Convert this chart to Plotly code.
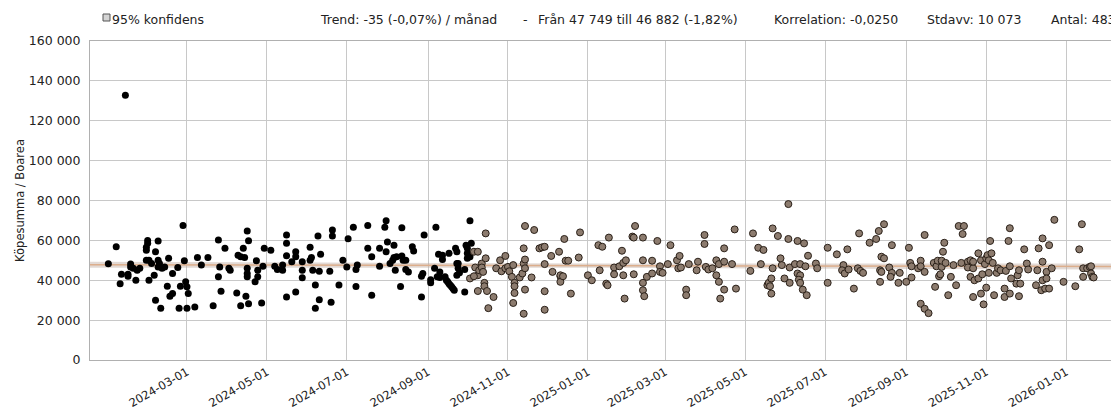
import pandas as pd
import plotly.graph_objects as go

# ---- data (day offsets from 2024-01-01, value = Köpesumma / Boarea) ----
epoch = "2024-01-01"

black_days = [0, 6, 9, 10, 13, 15, 15, 17, 17, 19, 21, 22, 24, 30, 30, 29, 29, 29, 31, 31, 33, 35, 36, 36, 38, 38, 38, 39, 40, 41,
              43, 45, 46, 47, 49, 49, 53, 54, 55, 57, 58, 59, 60, 60, 61, 66, 68, 71, 76, 80, 84, 84, 85, 86, 89, 92, 93, 99, 98, 101,
              101, 103, 104, 106, 106, 106, 106, 107, 107, 105, 112, 113, 114, 114, 117, 118, 119,
              124, 127, 129, 133, 133, 136, 136, 136, 136, 140, 143, 143, 143, 148, 148, 148, 154, 154, 155, 156, 158, 158, 160,
              161, 161, 162, 169, 170, 171, 171, 176, 179, 182, 183, 187, 189, 189, 190, 198, 198, 201, 201, 207, 207, 211, 212, 212, 213,
              215, 217, 218, 218, 219, 220, 223, 224, 224, 225, 227, 227, 229, 232, 233, 239, 239, 240, 241, 246, 246, 249, 250, 251, 252,
              253, 253, 255, 255, 257, 258, 260, 259, 260, 261, 262, 263, 264, 265, 266, 266, 266, 267, 267, 268, 272, 272, 273, 274,
              274, 274, 276, 276, 277]
black_vals = [48300, 56800, 38300, 43000, 132800, 43000, 42000, 48100, 46700, 46000, 40000, 45000, 46000, 60000, 58500, 56500, 55000, 50000, 50000, 40000,
              48400, 42500, 54300, 30000, 50000, 59700, 46700, 48400, 26000, 46000, 46700, 37000, 51000, 32000, 33300, 43400, 46400, 26000, 37000, 67400,
              49800, 39200, 36700, 26000, 33300, 26600, 51400, 47600, 51400, 27200, 60200, 41700, 46700, 34500, 56000, 46000, 45000, 52600, 33600, 51800,
              27200, 56000, 51400, 41700, 64700, 46000, 43400, 59800, 28200, 32000, 39200, 49800, 45000, 41700, 28600, 47000, 56000,
              55000, 47000, 45400, 47600, 45000, 62700, 58500, 52300, 31600, 49300, 54300, 51800, 34100, 49300, 45000, 41200, 56500, 50000, 51400,
              45000, 26000, 37600, 62200, 30200, 44500, 53100, 44500, 29000, 65200, 62200, 37600, 50000, 46700, 60800, 66600, 45400, 36900, 47600,
              67400, 56000, 51800, 32500, 47000, 56000, 66600, 69800, 54300, 59200, 48400, 50000, 57600, 51400, 45000, 51800, 36900, 52200, 66300,
              50000, 45400, 50000, 44200, 56800, 54700, 42000, 31600, 43400, 62700, 40300, 38700, 46000, 66600, 41700, 53100,
              44200, 41400, 52600, 50400, 41700, 40000, 53500, 39200, 38300, 37500, 36700, 35800, 35000, 56000, 54300, 48400, 42500, 46000,
              48400, 43700, 34100, 45400, 57600, 56000, 53500, 51000, 51800, 69800, 58500]

brown_days = [279, 282, 280, 282, 283, 285, 285, 286, 287, 287, 288, 288, 282, 276, 279, 289, 290, 294, 296, 299, 300, 303, 303, 305, 306,
              308, 309, 310, 310, 310, 309, 314, 316, 317, 317, 318, 318, 318, 318, 317, 323, 325, 329, 331, 333, 333, 333, 333, 338, 339,
              344, 345, 345, 345, 347, 348, 349, 351, 353, 359, 360, 366, 369, 374, 377, 375, 380, 381, 382, 386, 386,
              390, 392, 393, 393, 395, 394, 400, 401, 402, 401, 408, 408, 408, 408, 409, 411, 415, 415, 419, 421, 421, 423, 427, 429,
              434, 435, 436, 437, 441, 441, 443, 449, 450, 455, 455, 456, 458, 461, 464, 464, 466, 466, 467, 470, 470, 470, 476, 478,
              479, 490, 492, 496, 498, 500, 503, 504, 505, 506, 506, 507, 507, 511, 513, 514, 516, 519, 519, 520, 520,
              526, 524, 528, 526, 528, 527, 528, 530, 531, 532, 533, 534, 540, 541, 549, 549, 556, 561, 560, 562, 564, 565, 569, 572,
              573, 574, 576, 581, 586, 588, 592, 590, 592, 589, 590, 589, 596, 598, 597, 598, 603, 604, 609, 611, 612, 613, 613, 618,
              620, 620, 620, 623, 626, 623, 623, 630, 631, 632, 633, 634, 635, 636, 636, 637, 638, 639, 641, 643, 645, 647, 649, 651,
              652, 653,
              656, 656, 658, 658, 660, 660, 661, 660, 664, 664, 666, 666, 667, 668, 669, 670, 670, 671, 672, 672, 673, 674, 675, 676,
              678, 679, 681, 684, 684, 685, 687, 688, 688, 688, 689, 693, 694, 695, 695, 696, 699, 701, 702, 708, 709, 710, 712, 713,
              713, 713, 715, 716, 716, 718, 718, 720, 722, 729, 738, 741, 743, 744, 744, 747, 749, 750, 750, 751, 752]
brown_vals = [54300, 54300, 46400, 42500, 45000, 48400, 46400, 44200, 38700, 37000, 63500, 51000, 34600, 40900, 42000, 34600, 26000, 31600, 46000, 50000,
              44500, 52200, 46000, 46700, 44500, 41700, 47600, 38700, 37000, 33600, 28600, 41400, 43400, 56000, 48400, 50400, 46000, 67200, 35300, 23200,
              41400, 65200, 56000, 56500, 56800, 48100, 34500, 25200, 52200, 44200, 54300, 42000, 42500, 39200, 42000, 60700, 49800, 49800, 33300, 51400,
              64000, 42500, 40000, 57600, 56800, 45000, 38300, 37500, 61400, 46400, 43000,
              47000, 54800, 42500, 48700, 50000, 30800, 61900, 61400, 67200, 43000, 61400, 50000, 38700, 35000, 32000, 41700, 43400, 49800, 59700,
              47000, 44200, 43700, 48100, 57600, 50000, 46000, 52200, 46400, 35300, 32500, 48100, 45000, 49300, 62700, 58200, 46700, 45400, 46000,
              50000, 42500, 48100, 39200, 30800, 49300, 56000, 35300, 48100, 65500, 35800, 44700, 63500, 56300, 48100, 55200, 37500, 38700, 37000,
              40900, 33300, 66000, 46000, 62200, 51000, 47600, 40900, 78200, 60700, 46400, 38700,
              59700, 48100, 48100, 43400, 42500, 40300, 38700, 35300, 58500, 47000, 32500, 52300, 48400, 46000, 56300, 38700, 53000, 47600, 45000,
              43400, 55500, 45400, 35800, 46000, 63500, 44700, 43700, 58800, 60700, 64700, 68100, 51800, 51000, 45000, 44200, 39200, 46400, 43700,
              41700, 57600, 38700, 43700, 39200, 56300, 48700, 41400, 47000, 46000, 49800, 47000, 28200, 25700, 23500, 62700, 44200, 48700, 36700,
              47000, 49800, 42000, 43000, 46700, 49800, 54300, 58800, 48700, 32500, 41700, 47600, 37500, 67200, 48700, 63200, 67200,
              49300, 46400, 50000, 41700, 46000, 49300, 40000, 31600, 53500, 40900, 33300, 50000, 43000, 27900, 48100, 36300, 51000, 52600, 50000,
              43700, 59700, 53500, 48700, 32500, 43700, 46000, 45000, 35800, 31600, 44700, 59700, 66100, 47000, 33300, 40900, 38300, 42500, 32000,
              45000, 38300, 55500, 48400, 45400, 37500, 45000, 56000, 35000, 61000, 49300, 40000, 35800, 44200, 40900, 35800, 57600, 46000, 70300,
              39200, 37000, 55500, 68100, 46000, 41700, 46000, 46700, 47000, 43400, 41700, 41400]

x_range = ["2023-12-18", "2026-02-05"]
tick_dates = ["2024-03-01", "2024-05-01", "2024-07-01", "2024-09-01", "2024-11-01", "2025-01-01",
              "2025-03-01", "2025-05-01", "2025-07-01", "2025-09-01", "2025-11-01", "2026-01-01"]
y_ticks = [0, 20000, 40000, 60000, 80000, 100000, 120000, 140000, 160000]
trend_vals = [47749, 46882]
conf_half = [1500, 1100, 1500]
header_texts = ["Trend: -35 (-0,07%) / månad", "-", "Från 47 749 till 46 882 (-1,82%)",
                "Korrelation: -0,0250", "Stdavv: 10 073", "Antal: 483"]
header_x_px = [319, 522, 537, 773, 926, 1050]
legend_text = "95% konfidens"

# ---- build ----
base = pd.Timestamp(epoch)
bx = base + pd.to_timedelta(black_days, unit="D")
brx = base + pd.to_timedelta(brown_days, unit="D")

x0, x1 = pd.Timestamp(x_range[0]), pd.Timestamp(x_range[1])
xm = x0 + (x1 - x0) / 2
tmid = (trend_vals[0] + trend_vals[1]) / 2
band_x = [x0, xm, x1]
band_c = [trend_vals[0], tmid, trend_vals[1]]
upper = [c + h for c, h in zip(band_c, conf_half)]
lower = [c - h for c, h in zip(band_c, conf_half)]

PAGE = 8  # default body margin of the html page
W, H = 1119 - PAGE, 414 - PAGE
ml, mr, mt, mb = 82, 7, 33, 54
pw, ph = W - ml - mr, H - mt - mb

def px_x(p):
    return (p - PAGE - ml) / pw

def px_y(p):
    return 1 + (mt - (p - PAGE)) / ph

font = "DejaVu Sans, Verdana, sans-serif"
txt_col = "#222222"

fig = go.Figure()
fig.add_trace(go.Scatter(x=band_x + band_x[::-1], y=upper + lower[::-1], mode="lines", fill="toself",
                         fillcolor="rgba(190,170,160,0.45)", line=dict(width=0),
                         hoverinfo="skip", showlegend=False))
fig.add_trace(go.Scatter(x=[x0, x1], y=trend_vals, mode="lines",
                         line=dict(color="#dcae8c", width=1.5), showlegend=False))
fig.add_trace(go.Scatter(x=bx, y=black_vals, mode="markers",
                         marker=dict(color="#000000", size=7, line=dict(width=0)),
                         showlegend=False))
fig.add_trace(go.Scatter(x=brx, y=brown_vals, mode="markers",
                         marker=dict(color="#8c7b6e", size=7, line=dict(color="#2a2018", width=1)),
                         showlegend=False))

ann = [dict(text=t, x=px_x(p), y=px_y(20), xref="paper", yref="paper", xanchor="left",
            yanchor="middle", showarrow=False, borderpad=0,
            font=dict(family=font, size=12.5, color=txt_col))
       for t, p in zip(header_texts, header_x_px)]
ann.append(dict(text=legend_text, x=px_x(111), y=px_y(20), xref="paper", yref="paper",
                xanchor="left", yanchor="middle", showarrow=False, borderpad=0,
                font=dict(family=font, size=12.5, color=txt_col)))

fig.update_layout(
    width=W, height=H,
    margin=dict(l=ml, r=mr, t=mt, b=mb),
    plot_bgcolor="white", paper_bgcolor="white",
    separators=", ",
    font=dict(family=font, size=13, color=txt_col),
    annotations=ann,
    shapes=[dict(type="rect", xref="paper", yref="paper",
                 x0=px_x(103), x1=px_x(110), y0=px_y(21), y1=px_y(14),
                 fillcolor="#d4d4d4", line=dict(color="#555555", width=1))],
)
fig.update_xaxes(type="date", range=x_range, tickvals=tick_dates, ticktext=tick_dates,
                 tickangle=-30, showgrid=True, gridcolor="#c8c8c8",
                 showline=True, linecolor="#b0b0b0", mirror=True, zeroline=False,
                 ticks="", tickfont=dict(size=11.5), automargin=False)
fig.update_yaxes(range=[0, 160000], tickvals=y_ticks, tickformat=",d", showgrid=True,
                 gridcolor="#c8c8c8", showline=True, linecolor="#b0b0b0", mirror=True,
                 zeroline=False, ticks="", tickfont=dict(size=12.5), ticklabelstandoff=6,
                 automargin=False,
                 title=dict(text="Köpesumma / Boarea", font=dict(size=11.5), standoff=1))

fig.write_html("out.html")
